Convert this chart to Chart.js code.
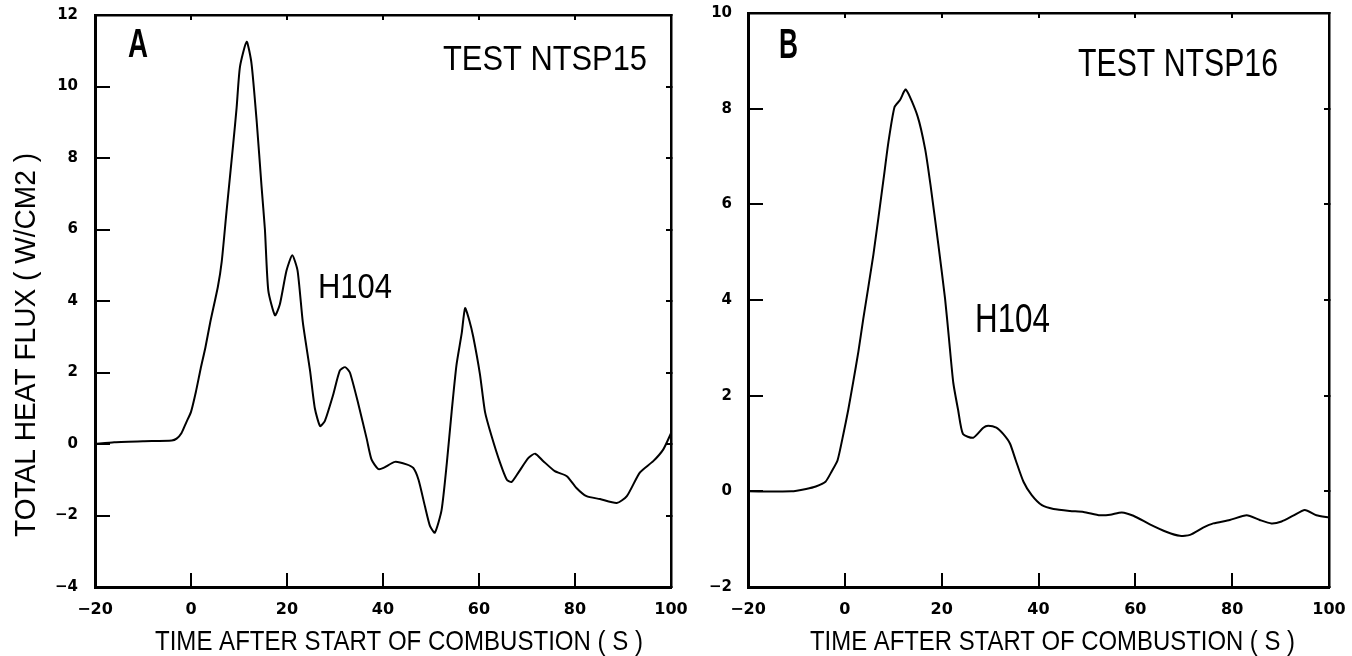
<!DOCTYPE html>
<html>
<head>
<meta charset="utf-8">
<script src="https://cdn.jsdelivr.net/npm/chart.js@4/dist/chart.umd.min.js"></script>
<style>
  html, body { margin: 0; padding: 0; background: #fff; }
  #wrap { position: relative; width: 1352px; height: 656px; background: #fff; }
  #cA { position: absolute; left: 0; top: 0; }
  #cB { position: absolute; left: 700px; top: 0; }
</style>
</head>
<body>
<div id="wrap">
  <canvas id="cA" width="700" height="656"></canvas>
  <canvas id="cB" width="652" height="656"></canvas>
</div>
<script>
// ---- data ----
const tA = [-20,-16,-10,-4,-3,-2,-1,0,1,2,3,4,5.6,6.4,7.4,8.8,9.5,10.2,11.6,12.6,13.7,14.7,15.4,16.1,17.5,18.5,19.9,21.1,22.2,23.3,24.8,25.8,26.9,27.9,29.6,31,32.1,33.1,34.9,36.6,37.6,39,40.1,42.5,44.9,46.3,47.4,48.75,49.8,50.8,52.2,53.3,54.3,55.3,56.4,57.1,58,58.8,60.2,61.25,62.6,64.4,65.8,66.8,68.2,70.3,71.7,73.4,75.8,78.3,80.3,82.4,85.2,88.7,90.8,93.5,96.3,98.4,100];
const fluxA = [0,0.05,0.08,0.1,0.15,0.3,0.6,0.9,1.45,2.1,2.7,3.4,4.4,5.1,6.5,8.4,9.4,10.55,11.25,10.65,9.0,7.2,6.0,4.3,3.6,3.9,4.85,5.28,4.85,3.4,2.05,1.0,0.5,0.65,1.37,2.05,2.15,2.0,1.1,0.15,-0.43,-0.7,-0.67,-0.5,-0.57,-0.67,-1.0,-1.75,-2.3,-2.48,-1.85,-0.53,0.9,2.2,3.1,3.8,3.45,3.0,1.95,0.9,0.23,-0.53,-1.0,-1.06,-0.8,-0.39,-0.27,-0.48,-0.76,-0.9,-1.23,-1.46,-1.54,-1.65,-1.46,-0.8,-0.48,-0.15,0.3];
const tB = [-20,-11,-8,-6,-4,-2.7,-1.5,-0.3,0.7,1.75,2.8,3.8,5.9,8.0,9.0,10.25,11.4,12.6,15.0,16.6,17.7,19.3,20.7,21.5,22.4,23.4,24.4,26.5,28.6,29.6,31.3,32.7,34.1,35.3,36.9,38.6,40.7,43.1,46.5,49.3,52.7,54.8,57.2,59.6,63.0,66.5,69.2,71.3,74.0,76.1,79.5,83.0,85.7,88.1,90.2,92.6,95.0,97.4,100];
const fluxB = [0,0,0.05,0.1,0.2,0.42,0.65,1.2,1.7,2.3,2.92,3.6,4.95,6.53,7.3,8.03,8.18,8.4,7.85,7.15,6.4,5.17,4.03,3.2,2.27,1.7,1.2,1.12,1.33,1.37,1.33,1.2,1.0,0.65,0.2,-0.08,-0.29,-0.37,-0.41,-0.43,-0.5,-0.49,-0.44,-0.51,-0.69,-0.85,-0.93,-0.91,-0.76,-0.67,-0.6,-0.5,-0.6,-0.67,-0.63,-0.51,-0.39,-0.5,-0.55];
const xRange = [-20, 100];
const xStep = 20;
const yRangeA = [-4, 12];
const yRangeB = [-2, 10];
const yStep = 2;
const xTitle = 'TIME AFTER START OF COMBUSTION ( S )';
const yTitle = 'TOTAL HEAT FLUX ( W/CM2 )';
const panelA = { letter: 'A', test: 'TEST NTSP15', gauge: 'H104' };
const panelB = { letter: 'B', test: 'TEST NTSP16', gauge: 'H104' };

// ---- helpers ----
const FAM = '"Liberation Sans", Arial, sans-serif';
function fmt(v) { return v < 0 ? '\u2212' + Math.abs(v) : String(v); }

function drawFit(ctx, text, x, y, size, weight, width, rot) {
  ctx.save();
  ctx.font = weight + ' ' + size + 'px ' + FAM;
  ctx.fillStyle = '#000';
  ctx.textAlign = 'left';
  ctx.textBaseline = 'alphabetic';
  const w = ctx.measureText(text).width;
  ctx.translate(x, y);
  if (rot) ctx.rotate(rot);
  ctx.scale(width / w, 1);
  ctx.fillText(text, 0, 0);
  ctx.restore();
}

function textPlugin(items) {
  return {
    id: 'texts',
    afterDraw(chart) {
      const ctx = chart.ctx;
      items.forEach(it => drawFit(ctx, it.text, it.x, it.y, it.size, it.weight, it.width, it.rot));
    }
  };
}

function noPad(s) { s.paddingTop = 0; s.paddingBottom = 0; s.paddingLeft = 0; s.paddingRight = 0; }

function makeChart(id, ts, vals, yRange, lay) {
  const pts = ts.map((t, i) => ({ x: t, y: vals[i] }));
  const tickFontX = { family: '"DejaVu Sans", sans-serif', size: 16, weight: 'bold' };
  const tickFontY = { family: '"DejaVu Sans", sans-serif', size: lay.yFont, weight: 'bold' };
  return new Chart(document.getElementById(id), {
    type: 'line',
    data: { datasets: [{ data: pts, borderColor: '#000', borderWidth: 2, pointRadius: 0, tension: 0.2, fill: false }] },
    options: {
      responsive: false,
      animation: false,
      devicePixelRatio: 1,
      layout: { padding: lay.padding },
      plugins: { legend: { display: false }, tooltip: { enabled: false } },
      scales: {
        x: {
          type: 'linear', position: 'bottom', min: xRange[0], max: xRange[1],
          ticks: { stepSize: xStep, color: '#000', font: tickFontX, padding: 27, maxRotation: 0, autoSkip: false, callback: fmt },
          grid: { drawOnChartArea: false, drawTicks: true, tickLength: -14, lineWidth: 2, color: '#000' },
          border: { display: true, width: 3, color: '#000' },
          afterFit: s => { s.height = lay.xAxisH; noPad(s); }
        },
        x2: {
          type: 'linear', position: 'top', min: xRange[0], max: xRange[1],
          ticks: { stepSize: xStep, display: false },
          grid: { drawOnChartArea: false, drawTicks: true, tickLength: -5, lineWidth: 2, color: '#000' },
          border: { display: true, width: 2.5, color: '#000' },
          afterFit: s => { s.height = 0; noPad(s); }
        },
        y: {
          type: 'linear', position: 'left', min: yRange[0], max: yRange[1],
          ticks: { stepSize: yStep, color: '#000', font: tickFontY, padding: lay.yPad, callback: fmt },
          grid: { drawOnChartArea: false, drawTicks: true, tickLength: -15, lineWidth: 2, color: '#000' },
          border: { display: true, width: 3, color: '#000' },
          afterFit: s => { s.width = lay.yAxisW; noPad(s); }
        },
        y2: {
          type: 'linear', position: 'right', min: yRange[0], max: yRange[1],
          ticks: { stepSize: yStep, display: false },
          grid: { drawOnChartArea: false, drawTicks: true, tickLength: -5, lineWidth: 2, color: '#000' },
          border: { display: true, width: 2.5, color: '#000' },
          afterFit: s => { s.width = 0; noPad(s); }
        }
      }
    },
    plugins: [textPlugin(lay.texts)]
  });
}

// Panel A (canvas at page x 0)
makeChart('cA', tA, fluxA, yRangeA, {
  padding: { left: 0, right: 29, top: 15, bottom: 0 },
  xAxisH: 69, yAxisW: 95, yPad: 32, yFont: 15,
  texts: [
    { text: panelA.letter, x: 128, y: 57, size: 40, weight: 'bold', width: 20 },
    { text: panelA.test, x: 443, y: 70, size: 35, weight: 'normal', width: 204 },
    { text: panelA.gauge, x: 318, y: 298, size: 35, weight: 'normal', width: 74 },
    { text: xTitle, x: 155, y: 650, size: 28, weight: 'normal', width: 488 },
    { text: yTitle, x: 35, y: 537, size: 30, weight: 'normal', width: 384, rot: -Math.PI / 2 }
  ]
});

// Panel B (canvas at page x 700)
makeChart('cB', tB, fluxB, yRangeB, {
  padding: { left: 0, right: 23, top: 13, bottom: 0 },
  xAxisH: 69, yAxisW: 48, yPad: 31, yFont: 15,
  texts: [
    { text: panelB.letter, x: 79, y: 58, size: 42, weight: 'bold', width: 19 },
    { text: panelB.test, x: 378, y: 76, size: 39, weight: 'normal', width: 200 },
    { text: panelB.gauge, x: 275, y: 332, size: 40, weight: 'normal', width: 75 },
    { text: xTitle, x: 110, y: 650, size: 28, weight: 'normal', width: 485 }
  ]
});
</script>
</body>
</html>
